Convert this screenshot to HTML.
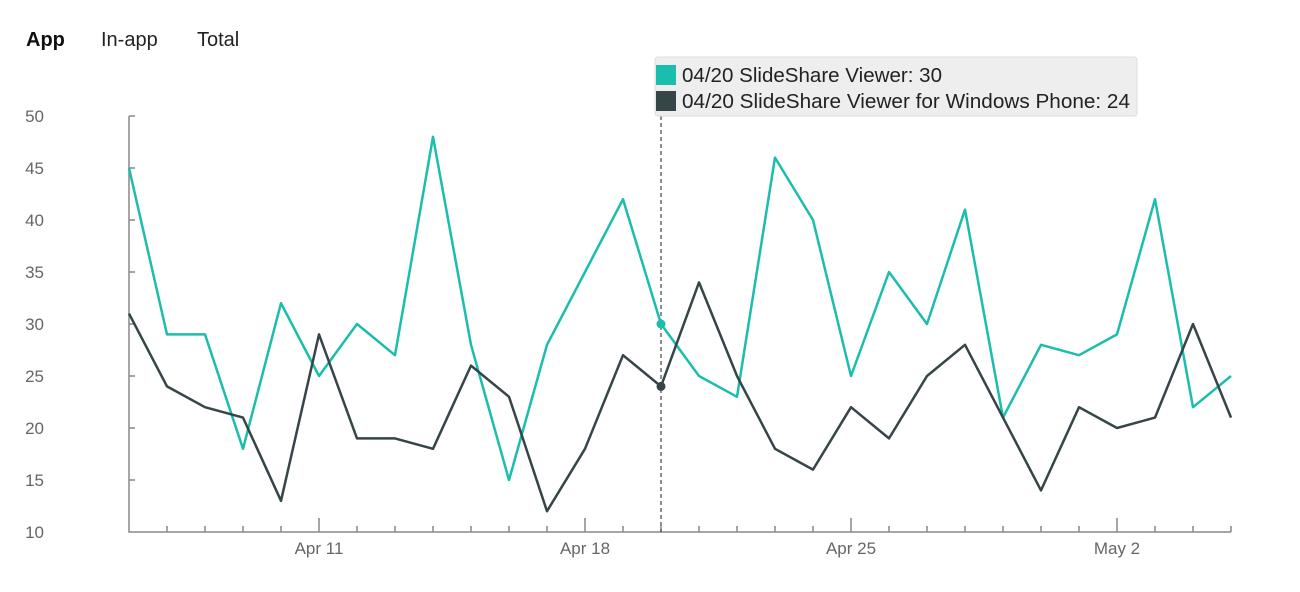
<!DOCTYPE html>
<html><head><meta charset="utf-8"><style>
body{margin:0;background:#fff;width:1300px;height:587px;overflow:hidden;font-family:"Liberation Sans",sans-serif}
</style></head><body>
<svg width="1300" height="587" xmlns="http://www.w3.org/2000/svg" font-family="Liberation Sans, sans-serif">
<text x="26" y="46" font-size="20" font-weight="bold" fill="#111">App</text>
<text x="101" y="46" font-size="20" fill="#222">In-app</text>
<text x="197" y="46" font-size="20" fill="#222">Total</text>
<g font-size="17" fill="#666" text-anchor="end">
<text x="44" y="122">50</text><text x="44" y="174">45</text><text x="44" y="226">40</text><text x="44" y="278">35</text><text x="44" y="330">30</text><text x="44" y="382">25</text><text x="44" y="434">20</text><text x="44" y="486">15</text><text x="44" y="538">10</text>
</g>
<g stroke="#888" stroke-width="1.5" fill="none">
<path d="M129 116V532H1231"/>
<path d="M129 116h6M129 168h6M129 220h6M129 272h6M129 324h6M129 376h6M129 428h6M129 480h6"/>
<path d="M167 532v-6M205 532v-6M243 532v-6M281 532v-6M357 532v-6M395 532v-6M433 532v-6M471 532v-6M509 532v-6M547 532v-6M623 532v-6M661 532v-6M699 532v-6M737 532v-6M775 532v-6M813 532v-6M889 532v-6M927 532v-6M965 532v-6M1003 532v-6M1041 532v-6M1079 532v-6M1155 532v-6M1193 532v-6M1231 532v-6"/>
<path d="M319 532v-14M585 532v-14M851 532v-14M1117 532v-14"/>
</g>
<g font-size="17" fill="#666" text-anchor="middle">
<text x="319" y="554">Apr 11</text><text x="585" y="554">Apr 18</text><text x="851" y="554">Apr 25</text><text x="1117" y="554">May 2</text>
</g>
<line x1="661" y1="116" x2="661" y2="532" stroke="#444" stroke-width="1.2" stroke-dasharray="4,3"/>
<polyline fill="none" stroke="#1bbdad" stroke-width="2.5" stroke-linejoin="round" points="129,168 167,334.4 205,334.4 243,448.8 281,303.2 319,376 357,324 395,355.2 433,136.8 471,344.8 509,480 547,344.8 585,272 623,199.2 661,324 699,376 737,396.8 775,157.6 813,220 851,376 889,272 927,324 965,209.6 1003,417.6 1041,344.8 1079,355.2 1117,334.4 1155,199.2 1193,407.2 1231,376"/>
<polyline fill="none" stroke="#354548" stroke-width="2.5" stroke-linejoin="round" points="129,313.6 167,386.4 205,407.2 243,417.6 281,500.8 319,334.4 357,438.4 395,438.4 433,448.8 471,365.6 509,396.8 547,511.2 585,448.8 623,355.2 661,386.4 699,282.4 737,376 775,448.8 813,469.6 851,407.2 889,438.4 927,376 965,344.8 1003,417.6 1041,490.4 1079,407.2 1117,428 1155,417.6 1193,324 1231,417.6"/>
<circle cx="661" cy="324" r="4.5" fill="#1bbdad"/>
<circle cx="661" cy="386.4" r="4.5" fill="#354548"/>
<rect x="655" y="57" width="482" height="59" rx="3" fill="#eeeeee" stroke="#ddd"/>
<rect x="656" y="65" width="20" height="20" fill="#1bbdad"/>
<rect x="656" y="91" width="20" height="20" fill="#354548"/>
<text x="682" y="82" font-size="20" fill="#222" textLength="260" lengthAdjust="spacingAndGlyphs">04/20 SlideShare Viewer: 30</text>
<text x="682" y="108" font-size="20" fill="#222" textLength="448" lengthAdjust="spacingAndGlyphs">04/20 SlideShare Viewer for Windows Phone: 24</text>
</svg>
</body></html>
